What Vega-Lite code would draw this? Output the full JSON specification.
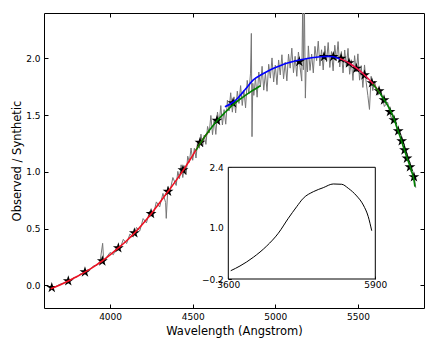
{
  "$schema": "https://vega.github.io/schema/vega-lite/v6.json",
  "width": 380,
  "height": 295,
  "autosize": {"type": "none"},
  "padding": {"left": 44, "top": 13, "right": 12, "bottom": 36},
  "config": {
    "view": {"stroke": "black", "strokeWidth": 1},
    "font": "DejaVu Sans",
    "axis": {"labelFont": "DejaVu Sans", "titleFont": "DejaVu Sans", "labelColor": "black", "titleColor": "black", "tickColor": "black", "grid": false, "domain": false, "titleFontWeight": "normal", "labelFlush": false}
  },
  "datasets": {
    "spec": [
      {"w":3640,"r":-0.028},{"w":3660,"r":-0.018},{"w":3680,"r":-0.003},{"w":3700,"r":0.012},{"w":3720,"r":0.02},{"w":3740,"r":0.038},{"w":3760,"r":0.045},{"w":3780,"r":0.068},{"w":3800,"r":0.074},{"w":3820,"r":0.1},{"w":3840,"r":0.106},{"w":3860,"r":0.135},{"w":3880,"r":0.14},{"w":3900,"r":0.172},{"w":3920,"r":0.175},{"w":3940,"r":0.215},{"w":3955,"r":0.37},{"w":3962,"r":0.2},{"w":3980,"r":0.25},{"w":4000,"r":0.29},{"w":4020,"r":0.27},{"w":4040,"r":0.34},{"w":4060,"r":0.322},{"w":4080,"r":0.405},{"w":4100,"r":0.368},{"w":4120,"r":0.452},{"w":4140,"r":0.425},{"w":4160,"r":0.51},{"w":4180,"r":0.48},{"w":4200,"r":0.588},{"w":4220,"r":0.55},{"w":4240,"r":0.655},{"w":4260,"r":0.612},{"w":4280,"r":0.735},{"w":4300,"r":0.69},{"w":4320,"r":0.81},{"w":4336,"r":0.73},{"w":4340,"r":0.59},{"w":4350,"r":0.87},{"w":4360,"r":0.81},{"w":4380,"r":0.95},{"w":4400,"r":0.88},
      {"w":4410,"r":1.004},{"w":4420,"r":0.94},{"w":4430,"r":1.062},{"w":4440,"r":0.95},{"w":4450,"r":1.054},{"w":4460,"r":0.976},{"w":4470,"r":1.138},{"w":4480,"r":1.084},{"w":4490,"r":1.21},{"w":4500,"r":1.102},{"w":4510,"r":1.208},{"w":4520,"r":1.122},{"w":4530,"r":1.27},{"w":4540,"r":1.208},{"w":4550,"r":1.332},{"w":4560,"r":1.22},{"w":4570,"r":1.324},{"w":4580,"r":1.242},{"w":4590,"r":1.4},{"w":4600,"r":1.342},
      {"w":4610,"r":1.497},{"w":4620,"r":1.328},{"w":4630,"r":1.465},{"w":4640,"r":1.33},{"w":4650,"r":1.527},{"w":4660,"r":1.424},{"w":4670,"r":1.584},{"w":4680,"r":1.413},{"w":4690,"r":1.548},{"w":4700,"r":1.42},{"w":4710,"r":1.631},{"w":4720,"r":1.536},{"w":4730,"r":1.697},{"w":4740,"r":1.526},{"w":4750,"r":1.661},{"w":4760,"r":1.52},{"w":4770,"r":1.711},{"w":4780,"r":1.603},{"w":4790,"r":1.76},{"w":4800,"r":1.585},
      {"w":4810,"r":1.722},{"w":4820,"r":1.564},{"w":4830,"r":1.806},{"w":4840,"r":1.688},{"w":4850,"r":1.87},{"w":4855,"r":2.22},{"w":4859,"r":1.31},{"w":4864,"r":1.78},{"w":4870,"r":1.674},{"w":4880,"r":1.826},{"w":4890,"r":1.658},{"w":4900,"r":1.88},{"w":4910,"r":1.75},{"w":4920,"r":1.93},{"w":4930,"r":1.72},{"w":4940,"r":1.87},{"w":4950,"r":1.71},{"w":4960,"r":1.948},{"w":4970,"r":1.826},{"w":4980,"r":2.004},{"w":4990,"r":1.792},{"w":5000,"r":1.94},{"w":5010,"r":1.768},{"w":5020,"r":1.986},{"w":5030,"r":1.854},{"w":5040,"r":2.032},{"w":5050,"r":1.82},{"w":5060,"r":1.966},{"w":5070,"r":1.802},{"w":5080,"r":2.038},{"w":5090,"r":1.914},{"w":5100,"r":2.09},{"w":5110,"r":1.874},{"w":5120,"r":2.018},{"w":5130,"r":1.842},{"w":5140,"r":2.056},{"w":5150,"r":1.92},{"w":5160,"r":1.8},{"w":5166,"r":2.5},{"w":5170,"r":1.9},{"w":5176,"r":2.5},{"w":5182,"r":1.65},{"w":5188,"r":2.0},{"w":5195,"r":1.88},{"w":5200,"r":2.11},{"w":5210,"r":1.894},{"w":5220,"r":2.038},{"w":5230,"r":1.872},{"w":5240,"r":2.106},{"w":5250,"r":1.98},{"w":5260,"r":2.152},{"w":5270,"r":1.934},{"w":5280,"r":2.076},{"w":5290,"r":1.898},{"w":5300,"r":2.11},{"w":5310,"r":1.97},{"w":5320,"r":2.14},{"w":5330,"r":1.92},{"w":5340,"r":2.06},{"w":5350,"r":1.89},{"w":5360,"r":2.116},{"w":5370,"r":1.982},{"w":5380,"r":2.148},{"w":5390,"r":1.924},{"w":5400,"r":2.06},{"w":5410,"r":1.872},{"w":5420,"r":2.074},{"w":5430,"r":1.926},{"w":5440,"r":2.088},{"w":5450,"r":1.86},{"w":5460,"r":1.988},{"w":5470,"r":1.806},{"w":5480,"r":2.024},{"w":5490,"r":1.882},{"w":5500,"r":2.04},{"w":5510,"r":1.808},{"w":5520,"r":1.936},{"w":5530,"r":1.744},{"w":5540,"r":1.942},{"w":5550,"r":1.79},{"w":5560,"r":1.674},{"w":5570,"r":1.55},{"w":5580,"r":1.842},{"w":5590,"r":1.716},{"w":5600,"r":1.8},
      {"w":5620,"r":1.676},{"w":5640,"r":1.712},{"w":5660,"r":1.576},{"w":5680,"r":1.614},{"w":5700,"r":1.48},{"w":5720,"r":1.488},{"w":5740,"r":1.341},{"w":5760,"r":1.326},{"w":5780,"r":1.178},{"w":5800,"r":1.15},{"w":5820,"r":1.002},{"w":5840,"r":0.964},{"w":5850,"r":0.86}
    ],
    "stars": [
      {"w":3647,"r":-0.021},{"w":3747,"r":0.038},{"w":3848,"r":0.117},{"w":3953,"r":0.214},{"w":4050,"r":0.329},{"w":4147,"r":0.461},{"w":4248,"r":0.631},{"w":4351,"r":0.827},{"w":4441,"r":1.016},{"w":4544,"r":1.259},{"w":4647,"r":1.452},{"w":4744,"r":1.607},{"w":5145,"r":1.971},{"w":5295,"r":2.015},{"w":5351,"r":2.015},{"w":5398,"r":1.999},{"w":5446,"r":1.959},{"w":5491,"r":1.911},{"w":5540,"r":1.853},{"w":5585,"r":1.783},{"w":5628,"r":1.712},{"w":5658,"r":1.633},{"w":5694,"r":1.53},{"w":5718,"r":1.457},{"w":5744,"r":1.36},{"w":5765,"r":1.272},{"w":5782,"r":1.192},{"w":5797,"r":1.119},{"w":5815,"r":1.043},{"w":5839,"r":0.955}
    ],
    "fits": [
      {"seg":"A","w":3640,"r":-0.03},{"seg":"A","w":3700,"r":0.005},{"seg":"A","w":3750,"r":0.04},{"seg":"A","w":3800,"r":0.077},{"seg":"A","w":3850,"r":0.118},{"seg":"A","w":3900,"r":0.163},{"seg":"A","w":3950,"r":0.212},{"seg":"A","w":4000,"r":0.268},{"seg":"A","w":4050,"r":0.329},{"seg":"A","w":4100,"r":0.393},{"seg":"A","w":4150,"r":0.464},{"seg":"A","w":4200,"r":0.545},{"seg":"A","w":4250,"r":0.632},{"seg":"A","w":4300,"r":0.728},{"seg":"A","w":4350,"r":0.826},{"seg":"A","w":4400,"r":0.925},{"seg":"A","w":4450,"r":1.03},{"seg":"A","w":4500,"r":1.145},{"seg":"A","w":4550,"r":1.262},{"seg":"A","w":4600,"r":1.362},
      {"seg":"B","w":4520,"r":1.19},{"seg":"B","w":4550,"r":1.262},{"seg":"B","w":4600,"r":1.365},{"seg":"B","w":4650,"r":1.455},{"seg":"B","w":4700,"r":1.53},{"seg":"B","w":4750,"r":1.6},{"seg":"B","w":4800,"r":1.655},{"seg":"B","w":4850,"r":1.705},{"seg":"B","w":4900,"r":1.75},{"seg":"B","w":4910,"r":1.76},
      {"seg":"C","w":4695,"r":1.574},{"seg":"C","w":4730,"r":1.6},{"seg":"C","w":4766,"r":1.64},{"seg":"C","w":4820,"r":1.73},{"seg":"C","w":4867,"r":1.81},{"seg":"C","w":4920,"r":1.86},{"seg":"C","w":4968,"r":1.898},{"seg":"C","w":5020,"r":1.93},{"seg":"C","w":5069,"r":1.957},{"seg":"C","w":5120,"r":1.977},{"seg":"C","w":5169,"r":1.992},{"seg":"C","w":5220,"r":2.006},{"seg":"C","w":5271,"r":2.015},{"seg":"C","w":5320,"r":2.018},{"seg":"C","w":5351,"r":2.015},{"seg":"C","w":5392,"r":1.995},
      {"seg":"D","w":5390,"r":1.998},{"seg":"D","w":5420,"r":1.98},{"seg":"D","w":5450,"r":1.955},{"seg":"D","w":5500,"r":1.905},{"seg":"D","w":5550,"r":1.84},{"seg":"D","w":5600,"r":1.76},{"seg":"D","w":5630,"r":1.7},
      {"seg":"E","w":5590,"r":1.775},{"seg":"E","w":5620,"r":1.72},{"seg":"E","w":5650,"r":1.655},{"seg":"E","w":5680,"r":1.585},{"seg":"E","w":5700,"r":1.53},{"seg":"E","w":5720,"r":1.46},{"seg":"E","w":5740,"r":1.375},{"seg":"E","w":5760,"r":1.29},{"seg":"E","w":5780,"r":1.2},{"seg":"E","w":5800,"r":1.11},{"seg":"E","w":5820,"r":1.03},{"seg":"E","w":5840,"r":0.92},{"seg":"E","w":5845,"r":0.87}
    ],
    "inset": [
      {"w":3638,"r":-0.007},{"w":3783,"r":0.103},{"w":3991,"r":0.305},{"w":4201,"r":0.568},{"w":4382,"r":0.864},{"w":4539,"r":1.213},{"w":4670,"r":1.483},{"w":4773,"r":1.679},{"w":4930,"r":1.832},{"w":5086,"r":1.926},{"w":5243,"r":2.012},{"w":5374,"r":2.005},{"w":5477,"r":1.912},{"w":5609,"r":1.733},{"w":5712,"r":1.523},{"w":5790,"r":1.25},{"w":5844,"r":0.924}
    ],
    "frame": [{"x1":3600,"x2":5900,"y1":-0.2,"y2":2.4}]
  },
  "layer": [
    {
      "data": {"name": "spec"},
      "mark": {"type": "line", "color": "#767676", "strokeWidth": 1, "clip": true},
      "encoding": {
        "x": {"field": "w", "type": "quantitative",
          "scale": {"domain": [3600, 5900], "nice": false, "zero": false},
          "axis": {"orient": "bottom", "values": [4000, 4500, 5000, 5500], "format": "d", "title": "Wavelength (Angstrom)", "tickSize": -4, "labelPadding": 8, "labelFontSize": 9, "titleFontSize": 11.5, "titlePadding": 4}},
        "y": {"field": "r", "type": "quantitative",
          "scale": {"domain": [-0.2, 2.4], "nice": false, "zero": false},
          "axis": {"orient": "left", "values": [0, 0.5, 1, 1.5, 2], "format": ".1f", "title": "Observed / Synthetic", "tickSize": -4, "labelPadding": 8, "labelFontSize": 9, "titleFontSize": 11.5, "titlePadding": 3}}
      }
    },
    {
      "data": {"name": "stars"},
      "mark": {"type": "point", "shape": "M0,-1L0.2245,-0.309L0.9511,-0.309L0.3633,0.118L0.5878,0.809L0,0.382L-0.5878,0.809L-0.3633,0.118L-0.9511,-0.309L-0.2245,-0.309Z", "filled": true, "color": "black", "opacity": 1, "size": 130},
      "encoding": {
        "x": {"field": "w", "type": "quantitative", "scale": {"domain": [3600, 5900], "nice": false, "zero": false}, "axis": null},
        "y": {"field": "r", "type": "quantitative", "scale": {"domain": [-0.2, 2.4], "nice": false, "zero": false}, "axis": null}
      }
    },
    {
      "data": {"name": "fits"},
      "mark": {"type": "line", "strokeWidth": 1.6, "interpolate": "monotone"},
      "encoding": {
        "x": {"field": "w", "type": "quantitative", "scale": {"domain": [3600, 5900], "nice": false, "zero": false}, "axis": null},
        "y": {"field": "r", "type": "quantitative", "scale": {"domain": [-0.2, 2.4], "nice": false, "zero": false}, "axis": null},
        "detail": {"field": "seg", "type": "nominal"},
        "color": {"field": "seg", "type": "nominal", "legend": null,
          "scale": {"domain": ["A","B","C","D","E"], "range": ["#ee1122","#008000","#0000ff","#ee1144","#008000"]}}
      }
    },
    {
      "data": {"values": [{"w": 3600, "r": 0}]},
      "mark": {"type": "point", "opacity": 0},
      "encoding": {
        "x": {"field": "w", "type": "quantitative",
          "scale": {"domain": [3600, 5900], "nice": false, "zero": false},
          "axis": {"orient": "top", "values": [4000, 4500, 5000, 5500], "labels": false, "title": null, "tickSize": -4}},
        "y": {"field": "r", "type": "quantitative",
          "scale": {"domain": [-0.2, 2.4], "nice": false, "zero": false},
          "axis": {"orient": "right", "values": [0, 0.5, 1, 1.5, 2], "labels": false, "title": null, "tickSize": -4}}
      }
    },
    {
      "data": {"name": "frame"},
      "mark": {"type": "rect", "fill": "white", "stroke": "black", "strokeWidth": 1},
      "encoding": {
        "x": {"field": "x1", "type": "quantitative",
          "scale": {"domain": [3600, 5900], "range": [184.3, 331.3], "nice": false, "zero": false},
          "axis": {"orient": "bottom", "offset": -29, "values": [3600, 5900], "format": "d", "title": null, "tickSize": -3, "labelPadding": 4, "labelFontSize": 9, "labelFlush": false}},
        "x2": {"field": "x2"},
        "y": {"field": "y1", "type": "quantitative",
          "scale": {"domain": [-0.2, 2.4], "range": [266, 154.3], "nice": false, "zero": false},
          "axis": {"orient": "left", "offset": -184.3, "values": [-0.2, 1.0, 2.4], "format": ".1f", "title": null, "tickSize": -3, "labelPadding": 8, "labelFontSize": 9}},
        "y2": {"field": "y2"}
      }
    },
    {
      "data": {"name": "inset"},
      "mark": {"type": "line", "color": "black", "strokeWidth": 1, "interpolate": "monotone"},
      "encoding": {
        "x": {"field": "w", "type": "quantitative", "scale": {"domain": [3600, 5900], "range": [184.3, 331.3], "nice": false, "zero": false}, "axis": null},
        "y": {"field": "r", "type": "quantitative", "scale": {"domain": [-0.2, 2.4], "range": [266, 154.3], "nice": false, "zero": false}, "axis": null}
      }
    }
  ],
  "resolve": {"scale": {"x": "independent", "y": "independent"}, "axis": {"x": "independent", "y": "independent"}}
}
